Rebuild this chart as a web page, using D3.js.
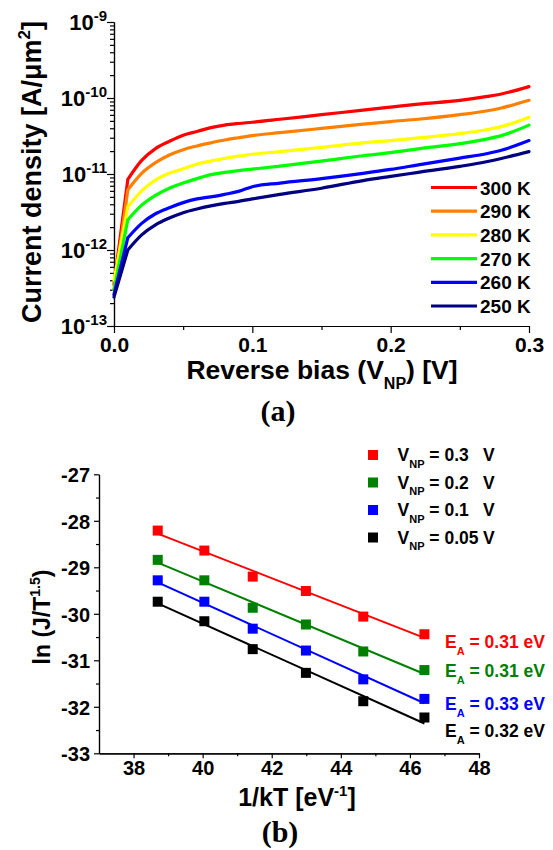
<!DOCTYPE html>
<html>
<head>
<meta charset="utf-8">
<script src="https://cdn.jsdelivr.net/npm/d3@7"></script>
<style>
  body { margin: 0; background: #fff; }
  svg text { font-family: "Liberation Sans", Arial, sans-serif; font-weight: bold; fill: #000; }
  .axis path, .axis line { stroke: #000; stroke-width: 1.2; }
</style>
</head>
<body>
<div id="chart"></div>
<script>
// (a) current density vs reverse bias, one curve per temperature
const VOLTS = [0, 0.01, 0.02, 0.03, 0.04, 0.05, 0.06, 0.07, 0.08, 0.09, 0.10,
               0.12, 0.15, 0.18, 0.20, 0.22, 0.25, 0.27, 0.28, 0.30];
const J_300K = [3.5e-13, 8.5e-12, 1.51e-11, 2.16e-11, 2.69e-11, 3.24e-11, 3.63e-11, 4.07e-11, 4.4e-11, 4.62e-11, 4.8e-11,
                5.25e-11, 6.03e-11, 6.92e-11, 7.59e-11, 8.32e-11, 9.33e-11, 1.05e-10, 1.13e-10, 1.41e-10];
const J_290K = [3.0e-13, 6.2e-12, 1.02e-11, 1.41e-11, 1.78e-11, 2.09e-11, 2.34e-11, 2.57e-11, 2.8e-11, 3.0e-11, 3.2e-11,
                3.5e-11, 3.98e-11, 4.52e-11, 4.9e-11, 5.25e-11, 6.03e-11, 6.8e-11, 7.4e-11, 9.33e-11];
const J_280K = [4.0e-13, 3.7e-12, 6.0e-12, 8.3e-12, 1.02e-11, 1.17e-11, 1.35e-11, 1.48e-11, 1.6e-11, 1.72e-11, 1.82e-11,
                1.97e-11, 2.24e-11, 2.57e-11, 2.75e-11, 2.99e-11, 3.39e-11, 3.85e-11, 4.2e-11, 5.6e-11];
const J_270K = [3.0e-13, 2.5e-12, 3.9e-12, 5.25e-12, 6.5e-12, 7.6e-12, 8.7e-12, 9.8e-12, 1.05e-11, 1.11e-11, 1.16e-11,
                1.27e-11, 1.48e-11, 1.74e-11, 1.91e-11, 2.14e-11, 2.51e-11, 2.9e-11, 3.2e-11, 4.4e-11];
const J_260K = [2.6e-13, 1.45e-12, 2.24e-12, 3.0e-12, 3.6e-12, 4.2e-12, 4.7e-12, 5.0e-12, 5.4e-12, 5.9e-12, 6.8e-12,
                7.6e-12, 8.7e-12, 1.02e-11, 1.15e-11, 1.32e-11, 1.62e-11, 1.86e-11, 2.05e-11, 2.75e-11];
const J_250K = [2.4e-13, 1.0e-12, 1.58e-12, 2.14e-12, 2.63e-12, 3.1e-12, 3.47e-12, 3.8e-12, 4.1e-12, 4.37e-12, 4.7e-12,
                5.4e-12, 6.5e-12, 8.2e-12, 9.3e-12, 1.05e-11, 1.26e-11, 1.46e-11, 1.6e-11, 1.97e-11];
const TEMP_LABELS = ['300 K', '290 K', '280 K', '270 K', '260 K', '250 K'];
const TEMP_COLORS = ['#ff0000', '#ff8000', '#ffff00', '#00ff00', '#0000ff', '#000080'];
const VOLT_TICKS = [0, 0.1, 0.2, 0.3];
const DECADES = [-13, -12, -11, -10, -9];

// (b) Arrhenius plot
const INV_KT = [38.70, 40.05, 41.45, 42.99, 44.65, 46.42];
const LN_V03  = [-28.21, -28.64, -29.20, -29.51, -30.06, -30.44];
const LN_V02  = [-28.84, -29.28, -29.87, -30.23, -30.81, -31.21];
const LN_V01  = [-29.28, -29.74, -30.32, -30.79, -31.41, -31.83];
const LN_V005 = [-29.74, -30.16, -30.76, -31.27, -31.88, -32.23];
const VNP_LABELS = ['0.3', '0.2', '0.1', '0.05'];
const EA_LABELS = ['0.31', '0.31', '0.33', '0.32'];
const ARR_COLORS = ['#ff0000', '#008000', '#0000ff', '#000000'];
const KT_TICKS = [38, 40, 42, 44, 46, 48];
const LN_TICKS = [-27, -28, -29, -30, -31, -32, -33];

const W = 553, H = 850;
const svg = d3.select('#chart').append('svg').attr('width', W).attr('height', H);

// text with sub/superscripts: parts = [{t, sub|sup, size}]
function rich(text, parts, base) {
  let shift = 0;
  parts.forEach(p => {
    const target = p.sub ? base * 0.38 : p.sup ? -base * 0.42 : 0;
    text.append('tspan')
      .attr('dy', target - shift)
      .style('font-size', p.size ? p.size + 'px' : null)
      .text(p.t);
    shift = target;
  });
  return text;
}

/* ---------- panel (a) ---------- */
const A = { left: 114, top: 22, w: 415, h: 304 };
const gA = svg.append('g').attr('transform', `translate(${A.left},${A.top})`);
const xA = d3.scaleLinear().domain([0, 0.3]).range([0, A.w]);
const yA = d3.scaleLog().domain([1e-13, 1e-9]).range([A.h, 0]);

const minorJ = [];
DECADES.slice(0, -1).forEach(d => { for (let k = 2; k <= 9; k++) minorJ.push(k * Math.pow(10, d)); });

gA.append('g').attr('class', 'axis')
  .call(d3.axisLeft(yA).tickValues(minorJ).tickSize(4).tickSizeOuter(0).tickFormat(''));
gA.append('g').attr('class', 'axis')
  .call(d3.axisLeft(yA).tickValues(DECADES.map(d => Math.pow(10, d))).tickSize(7).tickSizeOuter(0).tickFormat(''));
DECADES.forEach(d => {
  const t = gA.append('text').attr('x', -7).attr('y', yA(Math.pow(10, d)) + 8)
    .attr('text-anchor', 'end').style('font-size', '22px');
  rich(t, [{ t: '10' }, { t: String(d), sup: true, size: 15 }], 22);
});

gA.append('g').attr('class', 'axis').attr('transform', `translate(0,${A.h})`)
  .call(d3.axisBottom(xA).tickValues([0.05, 0.15, 0.25]).tickSize(4).tickSizeOuter(0).tickFormat(''));
gA.append('g').attr('class', 'axis').attr('transform', `translate(0,${A.h})`)
  .call(d3.axisBottom(xA).tickValues(VOLT_TICKS).tickSize(7).tickSizeOuter(0).tickFormat(d3.format('.1f')))
  .call(ax => ax.selectAll('text').attr('y', 11).attr('dy', '0.71em').style('font-size', '21px'));

// sharp rise from 0 to 0.01 V, smooth afterwards
const seriesA = [J_300K, J_290K, J_280K, J_270K, J_260K, J_250K];
const pts = s => s.map((d, i) => [VOLTS[i], d]);
const riseA = d3.line().x(p => xA(p[0])).y(p => yA(p[1]));
const bodyA = d3.line().x(p => xA(p[0])).y(p => yA(p[1])).curve(d3.curveMonotoneX);
seriesA.forEach((s, i) => {
  const p = pts(s);
  gA.append('path').attr('d', riseA(p.slice(0, 2)) + bodyA(p.slice(1)))
    .attr('fill', 'none').attr('stroke', TEMP_COLORS[i]).attr('stroke-width', 3.2)
    .attr('stroke-linejoin', 'round').attr('stroke-linecap', 'round');
});

// legend (a)
TEMP_LABELS.forEach((lab, i) => {
  const y = 187.5 + i * 23.7;
  svg.append('line').attr('x1', 431).attr('x2', 477).attr('y1', y).attr('y2', y)
    .attr('stroke', TEMP_COLORS[i]).attr('stroke-width', 3.2);
  svg.append('text').attr('x', 480).attr('y', y + 7).style('font-size', '19px').text(lab);
});

rich(svg.append('text').attr('x', 322).attr('y', 379).attr('text-anchor', 'middle').style('font-size', '26.5px'),
  [{ t: 'Reverse bias (V' }, { t: 'NP', sub: true, size: 16 }, { t: ') [V]' }], 26.5);
rich(svg.append('text').attr('transform', 'translate(41,172) rotate(-90)').attr('text-anchor', 'middle').style('font-size', '27px'),
  [{ t: 'Current density [A/\u03bcm' }, { t: '2', sup: true, size: 17 }, { t: ']' }], 27);
svg.append('text').attr('x', 278).attr('y', 421).attr('text-anchor', 'middle')
  .style('font-family', '"Liberation Serif", "Times New Roman", serif').style('font-size', '30px').text('(a)');

/* ---------- panel (b) ---------- */
const B = { left: 99, top: 474.3, w: 380, h: 279 };
const gB = svg.append('g').attr('transform', `translate(${B.left},${B.top})`);
const xB = d3.scaleLinear().domain([37, 48]).range([0, B.w]);
const yB = d3.scaleLinear().domain([-33, -27]).range([B.h, 0]);

gB.append('g').attr('class', 'axis')
  .call(d3.axisLeft(yB).tickValues(d3.range(-32.5, -27, 1)).tickSize(3).tickSizeOuter(0).tickFormat(''));
gB.append('g').attr('class', 'axis')
  .call(d3.axisLeft(yB).tickValues(LN_TICKS).tickSize(5).tickSizeOuter(0).tickFormat(d => String(d)))
  .call(ax => ax.selectAll('text').attr('x', -9).attr('dy', '0.36em').style('font-size', '20px'));
gB.append('g').attr('class', 'axis').attr('transform', `translate(0,${B.h})`)
  .call(d3.axisBottom(xB).tickValues([39, 41, 43, 45, 47]).tickSize(3).tickSizeOuter(0).tickFormat(''));
gB.append('g').attr('class', 'axis').attr('transform', `translate(0,${B.h})`)
  .call(d3.axisBottom(xB).tickValues(KT_TICKS).tickSize(5).tickSizeOuter(0))
  .call(ax => ax.selectAll('text').attr('y', 8).attr('dy', '0.71em').style('font-size', '20px'));

function fit(xs, ys) {
  const mx = d3.mean(xs), my = d3.mean(ys);
  const b = d3.sum(xs, (x, i) => (x - mx) * (ys[i] - my)) / d3.sum(xs, x => (x - mx) ** 2);
  return x => my + b * (x - mx);
}

const seriesB = [LN_V03, LN_V02, LN_V01, LN_V005];
seriesB.forEach((s, i) => {
  const f = fit(INV_KT, s);
  const x0 = INV_KT[0], x1 = INV_KT[INV_KT.length - 1];
  gB.append('line').attr('x1', xB(x0)).attr('y1', yB(f(x0))).attr('x2', xB(x1)).attr('y2', yB(f(x1)))
    .attr('stroke', ARR_COLORS[i]).attr('stroke-width', 2);
  gB.selectAll(null).data(s).join('rect')
    .attr('x', (d, j) => xB(INV_KT[j]) - 5).attr('y', d => yB(d) - 5)
    .attr('width', 10).attr('height', 10).attr('fill', ARR_COLORS[i]);
});

// legend (b)
VNP_LABELS.forEach((lab, i) => {
  const y = 455 + i * 27.5;
  svg.append('rect').attr('x', 373 - 5).attr('y', y - 5).attr('width', 10).attr('height', 10).attr('fill', ARR_COLORS[i]);
  rich(svg.append('text').attr('x', 397.5).attr('y', y + 6).style('font-size', '17.5px'),
    [{ t: 'V' }, { t: 'NP', sub: true, size: 11 }, { t: ' = ' + lab }], 17.5);
  svg.append('text').attr('x', 483).attr('y', y + 6).style('font-size', '17.5px').text('V');
});

// activation energies
const EA_Y = [648, 677, 710, 737];
EA_LABELS.forEach((lab, i) => {
  rich(svg.append('text').attr('x', 445).attr('y', EA_Y[i]).style('font-size', '17.5px').style('fill', ARR_COLORS[i]),
    [{ t: 'E' }, { t: 'A', sub: true, size: 11 }, { t: ' = ' + lab + ' eV' }], 17.5);
});

rich(svg.append('text').attr('x', 297).attr('y', 806).attr('text-anchor', 'middle').style('font-size', '25px'),
  [{ t: '1/kT [eV' }, { t: '-1', sup: true, size: 15 }, { t: ']' }], 25);
rich(svg.append('text').attr('transform', 'translate(50,617) rotate(-90)').attr('text-anchor', 'middle').style('font-size', '23px'),
  [{ t: 'ln (J/T' }, { t: '1.5', sup: true, size: 14 }, { t: ')' }], 23);
svg.append('text').attr('x', 280).attr('y', 842).attr('text-anchor', 'middle')
  .style('font-family', '"Liberation Serif", "Times New Roman", serif').style('font-size', '30px').text('(b)');
</script>
</body>
</html>
